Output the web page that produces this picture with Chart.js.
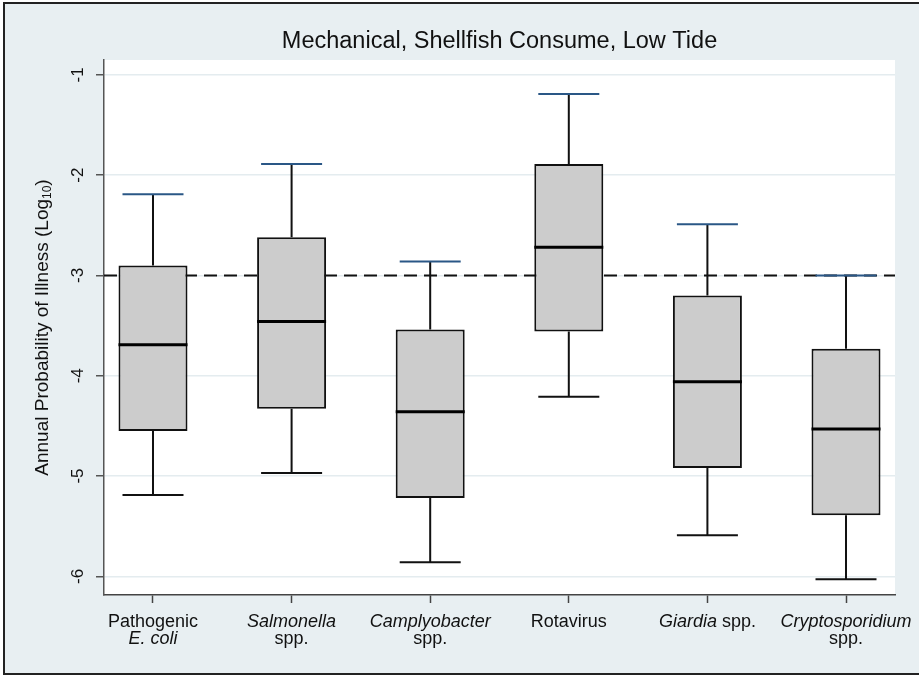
<!DOCTYPE html>
<html>
<head>
<meta charset="utf-8">
<script src="https://cdn.jsdelivr.net/npm/chart.js@4/dist/chart.umd.min.js"></script>
<style>
  html, body { margin: 0; padding: 0; background: #ffffff; }
  canvas { display: block; }
</style>
</head>
<body>
<canvas id="chart" width="919" height="677"></canvas>
<script>
// Annual probability of illness (log10) by pathogen: box plot summaries
const categories = ["Pathogenic E. coli", "Salmonella spp.", "Camplyobacter spp.", "Rotavirus", "Giardia spp.", "Cryptosporidium spp."];
const upperAdjacent = [-2.19, -1.89, -2.86, -1.19, -2.49, -3.00];
const upperQuartile = [-2.90, -2.62, -3.54, -1.89, -3.20, -3.73];
const medianValue   = [-3.69, -3.46, -4.36, -2.72, -4.06, -4.53];
const lowerQuartile = [-4.55, -4.33, -5.22, -3.56, -4.92, -5.39];
const lowerAdjacent = [-5.19, -4.97, -5.86, -4.21, -5.59, -6.03];
const referenceLevel = -3;
const yTickValues = [-6, -5, -4, -3, -2, -1];
const yTickLabels = ["-6", "-5", "-4", "-3", "-2", "-1"];
const titleText = "Mechanical, Shellfish Consume, Low Tide";
const yTitleMain = "Annual Probability of Illness (Log";
const yTitleSub = "10";
const yTitleEnd = ")";
// Axis labels: lines of [text, italic] runs
const xLabelLines = [
  [[["Pathogenic", false]], [["E. coli", true]]],
  [[["Salmonella", true]], [["spp.", false]]],
  [[["Camplyobacter", true]], [["spp.", false]]],
  [[["Rotavirus", false]]],
  [[["Giardia", true], [" spp.", false]]],
  [[["Cryptosporidium", true]], [["spp.", false]]]
];

const FONT = "'Liberation Sans', Arial, Helvetica, sans-serif";
const TEXT = '#111111';
const BOX_W = 69;
const CAP_W = 61;

const boxParts = {
  id: 'boxParts',
  beforeDraw(chart) {
    const { ctx, chartArea: a, width, height } = chart;
    ctx.save();
    ctx.fillStyle = '#ffffff';
    ctx.fillRect(0, 0, width, height);
    ctx.fillStyle = '#e8eff2';
    ctx.fillRect(4, 3, width, 671);
    ctx.strokeStyle = '#222222';
    ctx.lineWidth = 2;
    ctx.strokeRect(4, 3, width + 10, 671);
    ctx.fillStyle = '#ffffff';
    ctx.fillRect(a.left, a.top, a.right - a.left, a.bottom - a.top);
    ctx.restore();
  },
  beforeDatasetsDraw(chart) {
    const { ctx, chartArea: a, scales: { x, y } } = chart;
    ctx.save();
    // dashed reference level
    ctx.strokeStyle = '#111111';
    ctx.lineWidth = 2;
    ctx.setLineDash([13, 7]);
    const ry = y.getPixelForValue(referenceLevel);
    ctx.beginPath();
    ctx.moveTo(a.left, ry);
    ctx.lineTo(a.right, ry);
    ctx.stroke();
    ctx.setLineDash([]);
    // whiskers
    categories.forEach((c, i) => {
      const cx = x.getPixelForValue(i + 1);
      ctx.beginPath();
      ctx.moveTo(cx, y.getPixelForValue(upperQuartile[i]));
      ctx.lineTo(cx, y.getPixelForValue(upperAdjacent[i]));
      ctx.moveTo(cx, y.getPixelForValue(lowerQuartile[i]));
      ctx.lineTo(cx, y.getPixelForValue(lowerAdjacent[i]));
      ctx.stroke();
    });
    ctx.restore();
  },
  afterDatasetsDraw(chart) {
    const { ctx, scales: { x, y } } = chart;
    ctx.save();
    categories.forEach((c, i) => {
      const cx = x.getPixelForValue(i + 1);
      // median
      ctx.strokeStyle = '#000000';
      ctx.lineWidth = 3;
      const my = y.getPixelForValue(medianValue[i]);
      ctx.beginPath();
      ctx.moveTo(cx - BOX_W / 2, my);
      ctx.lineTo(cx + BOX_W / 2, my);
      ctx.stroke();
      // caps
      ctx.lineWidth = 2;
      ctx.strokeStyle = '#2a5786';
      const uy = y.getPixelForValue(upperAdjacent[i]);
      ctx.beginPath();
      ctx.moveTo(cx - CAP_W / 2, uy);
      ctx.lineTo(cx + CAP_W / 2, uy);
      ctx.stroke();
      ctx.strokeStyle = '#111111';
      const ly = y.getPixelForValue(lowerAdjacent[i]);
      ctx.beginPath();
      ctx.moveTo(cx - CAP_W / 2, ly);
      ctx.lineTo(cx + CAP_W / 2, ly);
      ctx.stroke();
    });
    ctx.restore();
  },
  afterDraw(chart) {
    const { ctx, chartArea: a, scales: { x, y } } = chart;
    ctx.save();
    ctx.fillStyle = TEXT;
    // vertical y tick labels
    ctx.font = `17px ${FONT}`;
    ctx.textAlign = 'center';
    ctx.textBaseline = 'alphabetic';
    yTickValues.forEach((v, i) => {
      const py = y.getPixelForValue(v);
      ctx.save();
      ctx.translate(83, py);
      ctx.rotate(-Math.PI / 2);
      ctx.fillText(yTickLabels[i], 0, 0);
      ctx.restore();
    });
    // y axis title with subscript
    const mainFont = `19px ${FONT}`;
    const subFont = `12px ${FONT}`;
    ctx.font = mainFont;
    const w1 = ctx.measureText(yTitleMain).width;
    const w3 = ctx.measureText(yTitleEnd).width;
    ctx.font = subFont;
    const w2 = ctx.measureText(yTitleSub).width;
    const total = w1 + w2 + w3;
    ctx.save();
    ctx.translate(48, (a.top + a.bottom) / 2);
    ctx.rotate(-Math.PI / 2);
    ctx.textAlign = 'left';
    let sx = -total / 2;
    ctx.font = mainFont;
    ctx.fillText(yTitleMain, sx, 0);
    sx += w1;
    ctx.font = subFont;
    ctx.fillText(yTitleSub, sx, 3);
    sx += w2;
    ctx.font = mainFont;
    ctx.fillText(yTitleEnd, sx, 0);
    ctx.restore();
    // category labels with italic runs
    ctx.textAlign = 'left';
    const lineY = [627, 644];
    xLabelLines.forEach((lines, i) => {
      const cx = x.getPixelForValue(i + 1);
      lines.forEach((runs, li) => {
        let w = 0;
        runs.forEach(([t, it]) => {
          ctx.font = `${it ? 'italic ' : ''}18px ${FONT}`;
          w += ctx.measureText(t).width;
        });
        let px = cx - w / 2;
        runs.forEach(([t, it]) => {
          ctx.font = `${it ? 'italic ' : ''}18px ${FONT}`;
          ctx.fillText(t, px, lineY[li]);
          px += ctx.measureText(t).width;
        });
      });
    });
    ctx.restore();
  }
};

new Chart(document.getElementById('chart'), {
  type: 'bar',
  data: {
    datasets: [{
      data: categories.map((c, i) => ({ x: i + 1, y: [lowerQuartile[i], upperQuartile[i]] })),
      backgroundColor: '#cccccc',
      borderColor: '#111111',
      borderWidth: 2,
      borderSkipped: false,
      barThickness: BOX_W,
      inflateAmount: 0
    }]
  },
  options: {
    responsive: false,
    animation: false,
    events: [],
    layout: { padding: { left: 0, right: 24, top: 0, bottom: 0 } },
    plugins: {
      legend: { display: false },
      tooltip: { enabled: false },
      title: {
        display: true,
        text: titleText,
        fullSize: false,
        color: TEXT,
        font: { family: FONT, size: 23.5, weight: 'normal', lineHeight: 1.2 },
        padding: { top: 27, bottom: 4.8 }
      }
    },
    scales: {
      x: {
        type: 'linear',
        min: 0.6465,
        max: 6.3535,
        offset: false,
        afterBuildTicks: s => { s.ticks = categories.map((c, i) => ({ value: i + 1 })); },
        afterFit: s => { s.height = 82; },
        ticks: { display: false },
        grid: { display: true, drawOnChartArea: false, drawTicks: true, tickLength: 8, tickColor: '#444444', tickWidth: 1.5, offset: false },
        border: { display: true, color: '#444444', width: 1.5 }
      },
      y: {
        min: -6.186,
        max: -0.852,
        afterBuildTicks: s => { s.ticks = yTickValues.map(v => ({ value: v })); },
        afterFit: s => { s.width = 104; },
        ticks: { display: false },
        grid: { color: '#e4ecef', lineWidth: 1.5, drawTicks: true, tickLength: 8, tickColor: '#555555', tickWidth: 1.5 },
        border: { display: true, color: '#555555', width: 1.5 }
      }
    }
  },
  plugins: [boxParts]
});
</script>
</body>
</html>
